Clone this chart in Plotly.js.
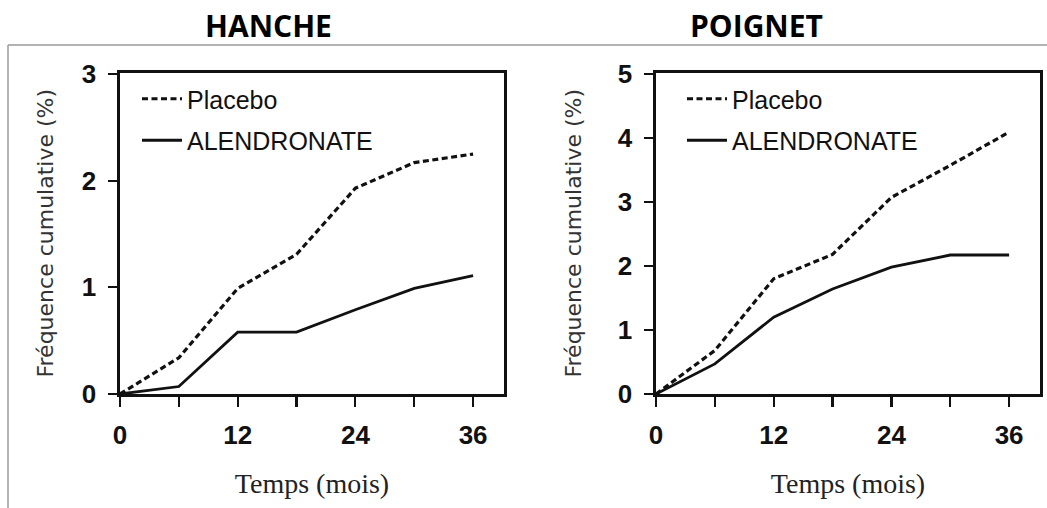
<!DOCTYPE html>
<html>
<head>
<meta charset="utf-8">
<script src="https://cdn.plot.ly/plotly-3.0.1.min.js"></script>
<style>
html,body{margin:0;padding:0;background:#fff;}
#chart{width:1047px;height:508px;}
</style>
</head>
<body>
<div id="chart"></div>
<script>
// ---- data ----
const months = [0, 6, 12, 18, 24, 30, 36];
const monthTickLabels = ['0', '', '12', '', '24', '', '36'];
const hanchePlacebo = [0, 0.34, 0.99, 1.31, 1.93, 2.17, 2.25];
const hancheAlendronate = [0, 0.07, 0.58, 0.58, 0.79, 0.99, 1.11];
const poignetPlacebo = [0, 0.68, 1.80, 2.18, 3.07, 3.57, 4.09];
const poignetAlendronate = [0, 0.47, 1.20, 1.64, 1.98, 2.17, 2.17];
const hancheYTicks = [0, 1, 2, 3];
const poignetYTicks = [0, 1, 2, 3, 4, 5];
const seriesNames = ['Placebo', 'ALENDRONATE'];
const panelTitles = ['HANCHE', 'POIGNET'];
const xTitle = 'Temps (mois)';
const yTitle = 'Fréquence cumulative (%)';

const W = 1047, H = 508;
const px = v => v / W;
const py = v => 1 - v / H;

const dashStyle = {color: '#111', width: 3.2, dash: '6px,3.5px'};
const solidStyle = {color: '#111', width: 2.8};

const traces = [
  {x: months, y: hanchePlacebo, name: seriesNames[0], mode: 'lines', line: dashStyle,
   xaxis: 'x', yaxis: 'y', legend: 'legend', legendgroup: 'a'},
  {x: months, y: hancheAlendronate, name: seriesNames[1], mode: 'lines', line: solidStyle,
   xaxis: 'x', yaxis: 'y', legend: 'legend', legendgroup: 'b'},
  {x: months, y: poignetPlacebo, name: seriesNames[0], mode: 'lines', line: dashStyle,
   xaxis: 'x2', yaxis: 'y2', legend: 'legend2', legendgroup: 'c'},
  {x: months, y: poignetAlendronate, name: seriesNames[1], mode: 'lines', line: solidStyle,
   xaxis: 'x2', yaxis: 'y2', legend: 'legend2', legendgroup: 'd'}
];

const tickFont = {family: 'Liberation Sans, Arial, sans-serif', size: 26, color: '#111', weight: 'bold'};

function xAxis(domain) {
  return {
    domain: domain, range: [0, 39.15], fixedrange: true,
    tickmode: 'array', tickvals: months, ticktext: monthTickLabels,
    ticks: 'outside', ticklen: 10, tickwidth: 2.2, tickcolor: '#111',
    showline: true, linecolor: '#111', linewidth: 2.6, mirror: true,
    showgrid: false, zeroline: false,
    tickfont: tickFont, ticklabelstandoff: 6,
    title: {text: xTitle, font: {family: 'Liberation Serif, Times New Roman, serif', size: 28, color: '#222'}, standoff: 25}
  };
}
function yAxis(range, ticks, anchor, standoff) {
  return {
    domain: [py(394), py(72.5)], range: range, fixedrange: true, anchor: anchor,
    tickmode: 'array', tickvals: ticks,
    ticks: 'outside', ticklen: 9, tickwidth: 2.2, tickcolor: '#111',
    showline: true, linecolor: '#111', linewidth: 2.6, mirror: true,
    showgrid: false, zeroline: false,
    tickfont: tickFont, ticklabelstandoff: 7,
    title: {text: yTitle, font: {family: 'DejaVu Sans, Verdana, sans-serif', size: 22, color: '#333'}, standoff: standoff}
  };
}

const legendBase = {
  font: {family: 'Liberation Sans, Arial, sans-serif', size: 25, color: '#111'},
  bgcolor: 'rgba(0,0,0,0)', borderwidth: 0, itemwidth: 40,
  traceorder: 'grouped', tracegroupgap: 6, xanchor: 'left', yanchor: 'top'
};

const layout = {
  width: W, height: H,
  margin: {l: 0, r: 0, t: 0, b: 0},
  paper_bgcolor: '#fff', plot_bgcolor: '#fff',
  showlegend: true,
  xaxis: Object.assign(xAxis([px(120), px(504)]), {anchor: 'y'}),
  yaxis: yAxis([0, 3.015], hancheYTicks, 'x', 22),
  xaxis2: Object.assign(xAxis([px(656), px(1040)]), {anchor: 'y2'}),
  yaxis2: yAxis([0, 5.02], poignetYTicks, 'x2', 30),
  legend: Object.assign({}, legendBase, {x: px(137), y: py(76)}),
  legend2: Object.assign({}, legendBase, {x: px(682), y: py(76)}),
  annotations: [
    {text: panelTitles[0], x: px(268), y: py(25), xref: 'paper', yref: 'paper', showarrow: false,
     xanchor: 'center', yanchor: 'middle',
     font: {family: 'Open Sans, sans-serif', size: 30, color: '#000', weight: 'bold'}},
    {text: panelTitles[1], x: px(756), y: py(25), xref: 'paper', yref: 'paper', showarrow: false,
     xanchor: 'center', yanchor: 'middle',
     font: {family: 'Open Sans, sans-serif', size: 30, color: '#000', weight: 'bold'}}
  ],
  shapes: [
    {type: 'line', xref: 'paper', yref: 'paper', x0: px(8), x1: 1, y0: py(45), y1: py(45),
     line: {color: '#9a9a9a', width: 1.5}},
    {type: 'line', xref: 'paper', yref: 'paper', x0: px(8), x1: px(8), y0: py(45), y1: 0,
     line: {color: '#9a9a9a', width: 1.5}}
  ]
};

Plotly.newPlot('chart', traces, layout, {displayModeBar: false, staticPlot: true});
</script>
</body>
</html>
